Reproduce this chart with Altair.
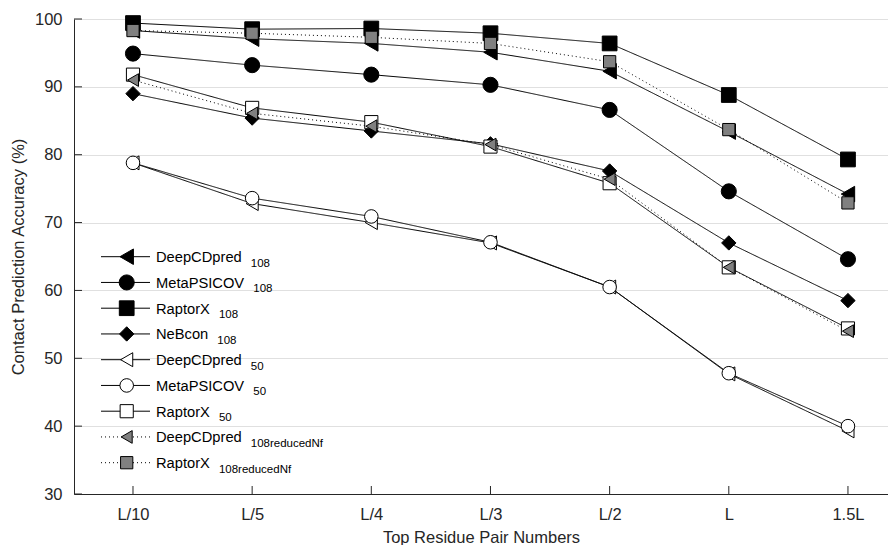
import json
import altair as alt
import pandas as pd

# ---------------- data ----------------
categories = ["L/10", "L/5", "L/4", "L/3", "L/2", "L", "1.5L"]

series_names = ["DeepCDpred108", "MetaPSICOV108", "RaptorX108", "NeBcon108",
                "DeepCDpred50", "MetaPSICOV50", "RaptorX50",
                "DeepCDpred108reducedNf", "RaptorX108reducedNf"]
legend_base = ["DeepCDpred", "MetaPSICOV", "RaptorX", "NeBcon",
               "DeepCDpred", "MetaPSICOV", "RaptorX", "DeepCDpred", "RaptorX"]
legend_sub = ["108", "108", "108", "108", "50", "50", "50",
              "108reducedNf", "108reducedNf"]

deepcdpred_108 = [98.3, 97.1, 96.4, 95.1, 92.3, 83.4, 74.2]
metapsicov_108 = [94.9, 93.2, 91.8, 90.3, 86.6, 74.6, 64.6]
raptorx_108 = [99.4, 98.5, 98.6, 97.9, 96.4, 88.8, 79.3]
nebcon_108 = [89.0, 85.4, 83.5, 81.6, 77.6, 67.0, 58.5]
deepcdpred_50 = [78.8, 72.8, 70.0, 67.0, 60.5, 47.7, 39.3]
metapsicov_50 = [78.8, 73.6, 70.9, 67.1, 60.5, 47.8, 40.0]
raptorx_50 = [91.8, 86.9, 84.8, 81.2, 75.8, 63.4, 54.4]
deepcdpred_red = [91.0, 86.1, 84.2, 81.5, 76.4, 63.4, 54.0]
raptorx_red = [98.3, 97.9, 97.3, 96.4, 93.7, 83.7, 72.9]

all_values = [deepcdpred_108, metapsicov_108, raptorx_108, nebcon_108,
              deepcdpred_50, metapsicov_50, raptorx_50, deepcdpred_red, raptorx_red]

y_ticks = [30, 40, 50, 60, 70, 80, 90, 100]

# ---------------- styles ----------------
FONT = "Liberation Sans"
INK = "#262626"
shapes = ["triangle-left", "circle", "square", "diamond",
          "triangle-left", "circle", "square", "triangle-left", "square"]
fills = ["black", "black", "black", "black",
         "white", "white", "white", "#808080", "#808080"]
sizes = [240, 150, 105, 260, 240, 150, 105, 250, 95]
dashes = [[1, 0]] * 7 + [[1, 3]] * 2

W, H = 814, 475

rows = []
for name, vals in zip(series_names, all_values):
    for i, v in enumerate(vals):
        rows.append({"series": name, "idx": i, "value": v})
df = pd.DataFrame(rows)

# text width helper (Arial/Helvetica metrics) for legend subscript placement
CW = {"D": 722, "e": 556, "p": 556, "C": 722, "r": 333, "d": 556, "M": 833,
      "t": 278, "a": 556, "P": 667, "S": 667, "I": 278, "O": 778, "V": 667,
      "R": 722, "o": 556, "X": 667, "N": 722, "B": 667, "c": 500, "n": 556, " ": 278}


def text_w(s, size):
    return sum(CW.get(ch, 556) for ch in s) * size / 1000.0


LEG_FS, SUB_FS = 14.7, 11.5
leg_top, leg_step = 237.7, 25.75
sym_x, text_x = 52.7, 82
leg = pd.DataFrame({
    "series": series_names,
    "base": legend_base,
    "sub": legend_sub,
    "ly": [leg_top + leg_step * i for i in range(len(series_names))],
    "sx": [text_x + text_w(b, LEG_FS) + 9 for b in legend_base],
})

shape_sc = alt.Scale(domain=series_names, range=shapes)
fill_sc = alt.Scale(domain=series_names, range=fills)
size_sc = alt.Scale(domain=series_names, range=sizes)
dash_sc = alt.Scale(domain=series_names, range=dashes)

label_expr = json.dumps(categories) + "[datum.value]"

x_main = alt.X("idx:Q",
               scale=alt.Scale(domain=[-0.495, 6.336], nice=False, zero=False),
               axis=alt.Axis(values=list(range(len(categories))), labelExpr=label_expr,
                             ticks=False, grid=False, title="Top Residue Pair Numbers",
                             labelPadding=12, titlePadding=7, labelFontSize=16.5,
                             titleFontSize=16.5, labelFont=FONT, titleFont=FONT,
                             labelColor=INK, titleColor=INK, titleFontWeight="normal",
                             domainColor=INK, domainWidth=1))
y_main = alt.Y("value:Q",
               scale=alt.Scale(domain=[30, 100], nice=False, zero=False),
               axis=alt.Axis(values=y_ticks, ticks=False, grid=True, gridColor="#e0e0e0",
                             gridWidth=1, title="Contact Prediction Accuracy (%)",
                             labelPadding=12, titlePadding=8, labelFontSize=16.5,
                             titleFontSize=16.5, labelFont=FONT, titleFont=FONT,
                             labelColor=INK, titleColor=INK, titleFontWeight="normal",
                             domainColor=INK, domainWidth=1))

base = alt.Chart(df)

lines = base.mark_line(color="black", strokeWidth=1).encode(
    x=x_main, y=y_main, detail="series:N",
    strokeDash=alt.StrokeDash("series:N", scale=dash_sc, legend=None),
    order="idx:Q",
)

points = base.mark_point(filled=True, stroke="black", strokeWidth=1, opacity=1).encode(
    x=alt.X("idx:Q"), y=alt.Y("value:Q"),
    shape=alt.Shape("series:N", scale=shape_sc, legend=None),
    fill=alt.Fill("series:N", scale=fill_sc, legend=None),
    size=alt.Size("series:N", scale=size_sc, legend=None),
)

ytick_df = pd.DataFrame({"value": y_ticks})
yticks = alt.Chart(ytick_df).mark_rule(color=INK, strokeWidth=1).encode(
    y=alt.Y("value:Q"), x=alt.value(0), x2=alt.value(8))

xtick_df = pd.DataFrame({"idx": list(range(len(categories)))})
xticks = alt.Chart(xtick_df).mark_rule(color=INK, strokeWidth=1).encode(
    x=alt.X("idx:Q"), y=alt.value(H), y2=alt.value(H - 8))

lbase = alt.Chart(leg)
leg_lines = lbase.mark_rule(color="black", strokeWidth=1).encode(
    y=alt.Y("ly:Q", scale=None, axis=None), x=alt.value(27), x2=alt.value(76),
    strokeDash=alt.StrokeDash("series:N", scale=dash_sc, legend=None))
leg_pts = lbase.mark_point(filled=True, stroke="black", strokeWidth=1, opacity=1).encode(
    y=alt.Y("ly:Q", scale=None, axis=None), x=alt.value(sym_x),
    shape=alt.Shape("series:N", scale=shape_sc, legend=None),
    fill=alt.Fill("series:N", scale=fill_sc, legend=None),
    size=alt.Size("series:N", scale=size_sc, legend=None))
leg_text = lbase.mark_text(align="left", baseline="alphabetic", dy=5.5,
                           font=FONT, fontSize=LEG_FS, color="black").encode(
    y=alt.Y("ly:Q", scale=None, axis=None), x=alt.value(text_x), text="base:N")
leg_sub = lbase.mark_text(align="left", baseline="alphabetic", dy=10,
                          font=FONT, fontSize=SUB_FS, color="black").encode(
    y=alt.Y("ly:Q", scale=None, axis=None),
    x=alt.X("sx:Q", scale=None, axis=None), text="sub:N")

chart = alt.layer(lines, yticks, xticks, points,
                  leg_lines, leg_pts, leg_text, leg_sub).properties(
    width=W, height=H,
    autosize=alt.AutoSizeParams(type="none"),
    padding={"left": 66, "top": 11, "right": 0, "bottom": 56},
).configure_view(stroke=None)

chart.save("out.html", embed_options={"renderer": "svg", "actions": False})
